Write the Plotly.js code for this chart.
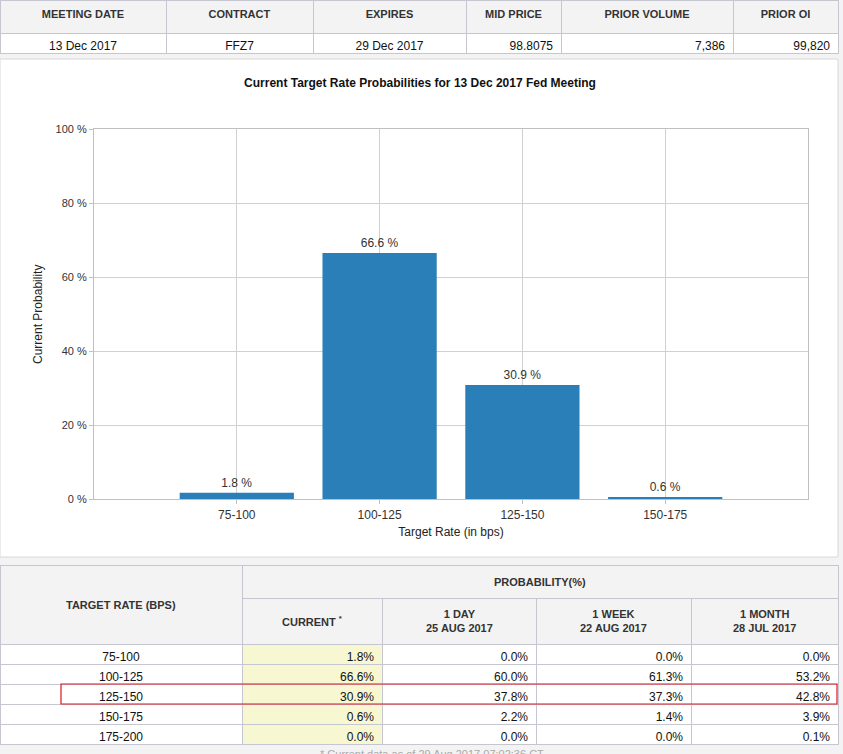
<!DOCTYPE html>
<html>
<head>
<meta charset="utf-8">
<script src="https://cdn.plot.ly/plotly-3.0.1.min.js"></script>
<style>
  html, body { margin: 0; padding: 0; background: #f3f3f3; }
  #chart { width: 843px; height: 754px; }
</style>
</head>
<body>
<div id="chart"></div>
<script>
// ---- Top summary table ----
const topHeaders = ['MEETING DATE', 'CONTRACT', 'EXPIRES', 'MID PRICE', 'PRIOR VOLUME', 'PRIOR OI'];
const topValues = ['13 Dec 2017', 'FFZ7', '29 Dec 2017', '98.8075', '7,386', '99,820'];

// ---- Chart data ----
const chartCategories = ['75-100', '100-125', '125-150', '150-175'];
const chartCurrent = [1.8, 66.6, 30.9, 0.6];

// ---- Probability table ----
const rateHeader = 'TARGET RATE (BPS)';
const probGroupHeader = 'PROBABILITY(%)';
const targetRates = ['75-100', '100-125', '125-150', '150-175', '175-200'];
const probHeaders = ['CURRENT <sup>*</sup>', '1 DAY<br>25 AUG 2017', '1 WEEK<br>22 AUG 2017', '1 MONTH<br>28 JUL 2017'];
const probCurrent = [1.8, 66.6, 30.9, 0.6, 0.0];
const prob1Day = [0.0, 60.0, 37.8, 2.2, 0.0];
const prob1Week = [0.0, 61.3, 37.3, 1.4, 0.0];
const prob1Month = [0.0, 53.2, 42.8, 3.9, 0.1];
const highlightRate = '125-150';
const footnote = '* Current data as of 29 Aug 2017 07:02:36 CT';

// ---- Page geometry (pixels) ----
const W = 843, H = 754;
const FONT = 'Liberation Sans, Arial, sans-serif';
const LINE = '#c6c6d0';
const HEAD_BG = '#f3f3f3';
const px = x => x / W;
const py = y => 1 - y / H;

const panelTop = 59, panelBottom = 557, panelRight = 838;
const botTop = 565, probHeadH = 33, colHeadH = 46, rowH = 20;
const botHeadH = probHeadH + colHeadH;
const colX = [0, 242, 382, 536, 691, 838];

const fmt = v => v.toFixed(1) + '%';
const bold = s => '<b>' + s + '</b>';
const headFont = {family: FONT, size: 11, color: '#333'};
const cellFont = {family: FONT, size: 12, color: '#111'};

const traces = [];

// Top table
traces.push({
  type: 'table',
  domain: {x: [0, px(panelRight)], y: [py(panelTop - 2), 1]},
  columnwidth: [166, 147, 153, 95, 172, 105],
  header: {
    values: topHeaders.map(h => [bold(h)]),
    height: 33,
    fill: {color: HEAD_BG},
    line: {color: LINE, width: 1},
    align: 'center',
    font: headFont
  },
  cells: {
    values: topValues.map(v => [v]),
    height: 20,
    fill: {color: 'white'},
    line: {color: LINE, width: 1},
    align: ['center', 'center', 'center', 'right', 'right', 'right'],
    font: cellFont
  }
});

// Bar chart
traces.push({
  type: 'bar',
  x: chartCategories,
  y: chartCurrent,
  marker: {color: '#2b7fb8'},
  text: chartCurrent.map(v => v.toFixed(1) + ' %'),
  textposition: 'outside',
  textfont: {family: FONT, size: 12, color: '#333'},
  cliponaxis: false,
  hoverinfo: 'skip',
  xaxis: 'x', yaxis: 'y'
});

// Bottom table: target rate column (header text drawn as annotation, centred)
traces.push({
  type: 'table',
  domain: {x: [0, px(colX[1])], y: [0, py(botTop)]},
  columnwidth: [1],
  header: {
    values: [[' ']],
    height: botHeadH,
    fill: {color: HEAD_BG},
    line: {color: LINE, width: 1},
    font: headFont
  },
  cells: {
    values: [targetRates],
    height: rowH,
    fill: {color: 'white'},
    line: {color: LINE, width: 1},
    align: 'center',
    font: cellFont
  }
});

// Bottom table: merged "PROBABILITY(%)" header cell
traces.push({
  type: 'table',
  domain: {x: [px(colX[1]), px(colX[5])], y: [py(botTop + probHeadH + 2), py(botTop)]},
  columnwidth: [1],
  header: {
    values: [[' ']],
    height: probHeadH,
    fill: {color: HEAD_BG},
    line: {color: LINE, width: 1},
    font: headFont
  },
  cells: {values: [[]], height: rowH}
});

// Bottom table: probability columns
const probWidths = [];
for (let i = 1; i < colX.length - 1; i++) probWidths.push(colX[i + 1] - colX[i]);
traces.push({
  type: 'table',
  domain: {x: [px(colX[1]), px(colX[5])], y: [0, py(botTop + probHeadH)]},
  columnwidth: probWidths,
  header: {
    values: probHeaders.map(() => [' ']),
    height: colHeadH,
    fill: {color: HEAD_BG},
    line: {color: LINE, width: 1},
    font: headFont
  },
  cells: {
    values: [probCurrent.map(fmt), prob1Day.map(fmt), prob1Week.map(fmt), prob1Month.map(fmt)],
    height: rowH,
    fill: {color: ['#f7f7d2', 'white', 'white', 'white']},
    line: {color: LINE, width: 1},
    align: 'right',
    font: cellFont
  }
});

const hiIdx = targetRates.indexOf(highlightRate);
const hiTop = botTop + botHeadH + hiIdx * rowH;

// Header annotations for the bottom table (centred in their merged cells)
const headAnn = (text, x0, x1, y0, y1) => ({
  text: bold(text), xref: 'paper', yref: 'paper',
  x: px((x0 + x1) / 2), y: py((y0 + y1) / 2),
  xanchor: 'center', yanchor: 'middle', align: 'center',
  showarrow: false, font: headFont
});
const annotations = [
  headAnn(rateHeader, colX[0], colX[1], botTop, botTop + botHeadH),
  headAnn(probGroupHeader, colX[1], colX[5], botTop, botTop + probHeadH)
];
probHeaders.forEach((h, i) => {
  annotations.push(headAnn(h, colX[i + 1], colX[i + 2], botTop + probHeadH, botTop + botHeadH));
});
annotations.push({
  text: footnote, xref: 'paper', yref: 'paper', x: px(432), y: py(746),
  xanchor: 'center', yanchor: 'top', showarrow: false,
  font: {family: FONT, size: 11, color: '#aaaaaa'}
});

const layout = {
  width: W, height: H,
  margin: {l: 0, r: 0, t: 0, b: 0},
  paper_bgcolor: '#f3f3f3',
  plot_bgcolor: 'white',
  font: {family: FONT, size: 12, color: '#333'},
  showlegend: false,
  bargap: 0.2,
  title: {
    text: bold('Current Target Rate Probabilities for 13 Dec 2017 Fed Meeting'),
    font: {family: FONT, size: 12, color: '#111'},
    x: px(420), xanchor: 'center', xref: 'paper',
    y: py(83), yanchor: 'middle', yref: 'paper'
  },
  xaxis: {
    domain: [px(94), px(808)],
    type: 'category',
    range: [-1, 4],
    showgrid: true, gridcolor: '#d0d0d0',
    showline: true, linecolor: '#c0c0c0', mirror: true,
    ticks: 'outside', ticklen: 4, tickcolor: '#c0c0c0',
    tickfont: {family: FONT, size: 12, color: '#333'},
    title: {text: 'Target Rate (in bps)', font: {family: FONT, size: 12, color: '#222'}, standoff: 6},
    automargin: false, fixedrange: true
  },
  yaxis: {
    domain: [py(499.3), py(129.3)],
    range: [0, 100],
    tickvals: [0, 20, 40, 60, 80, 100],
    ticktext: ['0 %', '20 %', '40 %', '60 %', '80 %', '100 %'],
    showgrid: true, gridcolor: '#d0d0d0',
    zeroline: false,
    showline: true, linecolor: '#c0c0c0', mirror: true,
    ticks: 'outside', ticklen: 4, tickcolor: '#c0c0c0',
    tickfont: {family: FONT, size: 11, color: '#333'},
    title: {text: 'Current Probability', font: {family: FONT, size: 12, color: '#222'}, standoff: 10},
    automargin: false, fixedrange: true
  },
  shapes: [
    {type: 'rect', xref: 'paper', yref: 'paper', layer: 'below',
     x0: 0, x1: px(panelRight), y0: py(panelBottom), y1: py(panelTop),
     fillcolor: 'white', line: {color: '#d8d8d8', width: 1}},
    {type: 'rect', xref: 'paper', yref: 'paper', layer: 'above',
     x0: px(61), x1: px(837), y0: py(hiTop + rowH), y1: py(hiTop),
     fillcolor: 'rgba(0,0,0,0)', line: {color: '#e0141e', width: 1.2}}
  ],
  annotations: annotations
};

Plotly.newPlot('chart', traces, layout, {displayModeBar: false, staticPlot: true});
</script>
</body>
</html>
